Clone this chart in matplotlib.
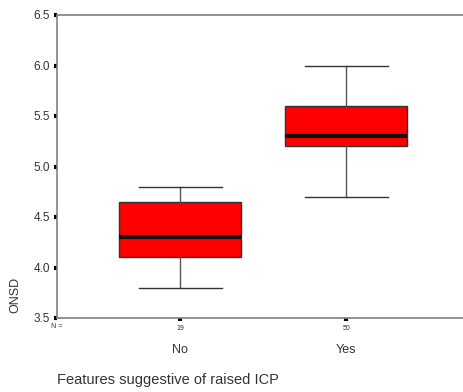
import matplotlib
matplotlib.use("Agg")
import matplotlib.pyplot as plt

categories = ["No", "Yes"]
counts = [19, 50]
whisker_low = [3.8, 4.7]
q1 = [4.1, 5.2]
median = [4.3, 5.3]
q3 = [4.65, 5.6]
whisker_high = [4.8, 6.0]
yticks = [3.5, 4.0, 4.5, 5.0, 5.5, 6.0, 6.5]

plt.rcParams['font.family'] = ['Liberation Sans', 'DejaVu Sans']

fig = plt.figure(figsize=(4.64, 3.92), dpi=100)
ax = fig.add_axes([57/464, 74/392, 1 - 57/464, (318-15)/392])

stats = []
for i in range(len(categories)):
    stats.append(dict(whislo=whisker_low[i], q1=q1[i], med=median[i], q3=q3[i],
                      whishi=whisker_high[i], fliers=[], label=categories[i]))

positions = [1, 2]
ax.bxp(stats, positions=positions, widths=0.73, patch_artist=True, showfliers=False,
       boxprops=dict(facecolor='#ff0000', edgecolor='#333333', linewidth=1.0),
       medianprops=dict(color='#111111', linewidth=3.0, solid_capstyle='butt'),
       whiskerprops=dict(color='#555555', linewidth=1.0),
       capprops=dict(color='#333333', linewidth=1.0),
       capwidths=0.5)

ax.set_xlim(0.259, 2.71)
ax.set_ylim(3.5, 6.5)
ax.set_yticks(yticks)
ax.set_yticklabels([f"{v:.1f}" for v in yticks], fontsize=8.5, color='#333333')
ax.set_xticks(positions)
ax.set_xticklabels([str(c) for c in counts], fontsize=5, color='#333333')

for s in ['right']:
    ax.spines[s].set_visible(False)
for s in ['left', 'bottom', 'top']:
    ax.spines[s].set_color('#808080')
    ax.spines[s].set_linewidth(1.2)

ax.tick_params(axis='both', direction='out', length=2, width=3, color='black', pad=3)

fig.text(57, 392 - 327, "N =", fontsize=5, color='#333333',
         ha='center', va='center', transform=None)
for p, c in zip(positions, categories):
    ax.text(p, -0.085, c, transform=ax.get_xaxis_transform(), fontsize=9,
            color='#333333', ha='center', va='top')

fig.text(57, 392 - 380, "Features suggestive of raised ICP", fontsize=10.5,
         color='#333333', ha='left', va='center', transform=None)
fig.text(15, 392 - 295, "ONSD", fontsize=9, color='#333333', rotation=90,
         ha='center', va='center', transform=None)

fig.savefig("out.png", dpi=100)
